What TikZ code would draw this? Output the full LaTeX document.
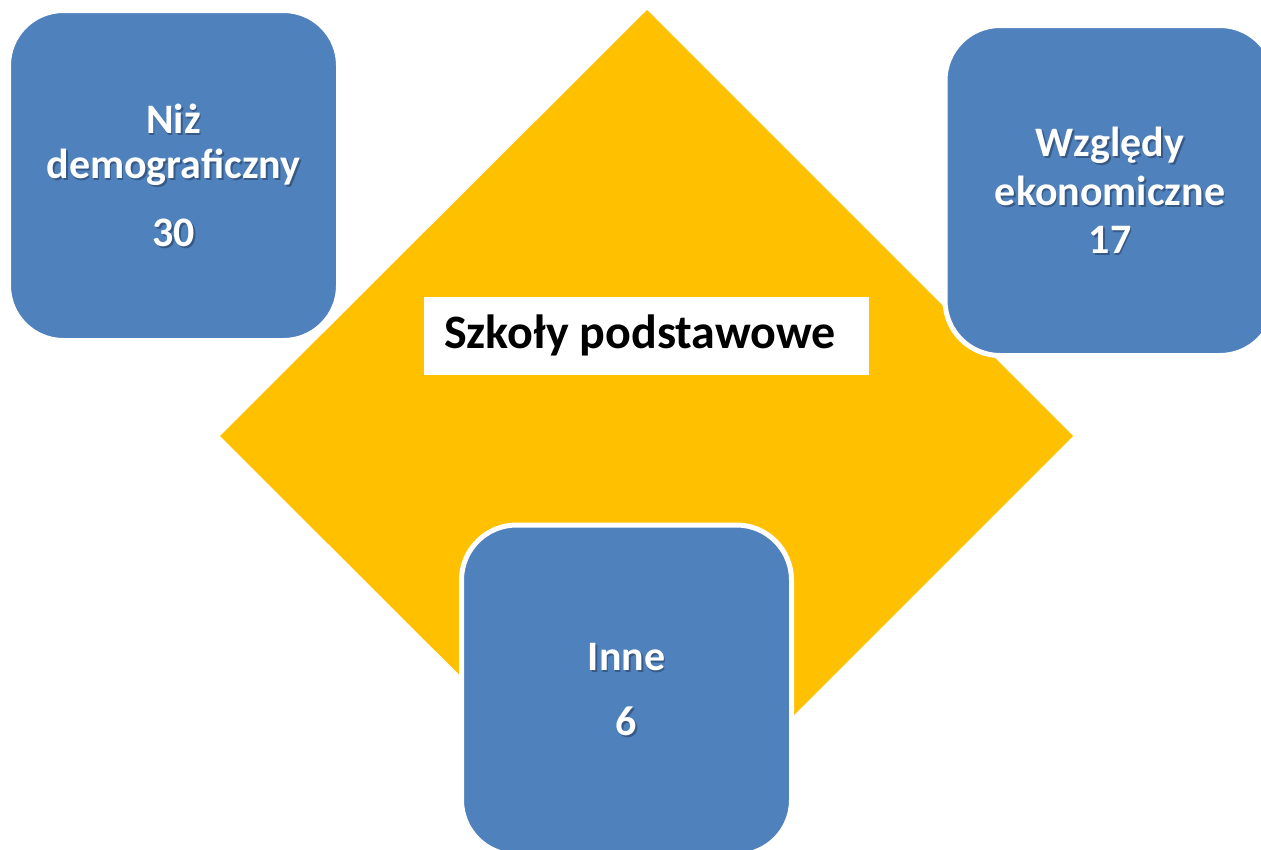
\documentclass[tikz,border=0pt]{standalone}
\usepackage{fontspec}
\setmainfont{Carlito}
\definecolor{boxblue}{HTML}{4F81BD}
\definecolor{gold}{HTML}{FFC000}
\definecolor{shadowc}{HTML}{1A2A45}
\begin{document}
\begin{tikzpicture}[x=1pt,y=-1pt,
  card/.style={draw=white, line width=5pt, fill=boxblue, rounded corners=55pt,
    minimum width=330pt, minimum height=330pt, inner sep=0pt},
  cardtext/.style={text=white, font=\bfseries\fontsize{42}{45}\selectfont, align=center, inner sep=0pt},
  cardshadow/.style={cardtext, text=shadowc, opacity=0.45},
  labelbox/.style={fill=white, minimum width=445pt, minimum height=78pt, inner sep=0pt},
  titletext/.style={text=black, font=\bfseries\fontsize{48}{52}\selectfont, inner sep=0pt, anchor=base}]
\useasboundingbox (0,0) rectangle (1261,849);
\clip (0,0) rectangle (1261,849);
% diamond
\fill[gold] (647,10) -- (1073,436) -- (647,862) -- (220,436) -- cycle;
% central label
\node[labelbox] (label) at (646.5,336) {};
\node[titletext] (title) at (640,348) {Szkoły podstawowe};
% cards
\node[card] (demo) at (173.5,175.5) {};
\node[card] (econ) at (1110,190.5) {};
\node[card] (other) at (626.5,690) {};
% card texts
\node[cardshadow] at ([xshift=1.8pt,yshift=-1.8pt]demo.center) {Niż\\demograficzny\\[23pt]30};
\node[cardtext] (demotext) at (demo.center) {Niż\\demograficzny\\[23pt]30};
\node[cardshadow, font=\bfseries\fontsize{42}{48.5}\selectfont] at ([xshift=1.8pt,yshift=-1.8pt]econ.center) {Względy\\ekonomiczne\\17};
\node[cardtext, font=\bfseries\fontsize{42}{48.5}\selectfont] (econtext) at (econ.center) {Względy\\ekonomiczne\\17};
\node[cardshadow] at ([xshift=1.8pt,yshift=-1.8pt]other.center) {Inne\\[20pt]6};
\node[cardtext] (othertext) at (other.center) {Inne\\[20pt]6};
\end{tikzpicture}
\end{document}
